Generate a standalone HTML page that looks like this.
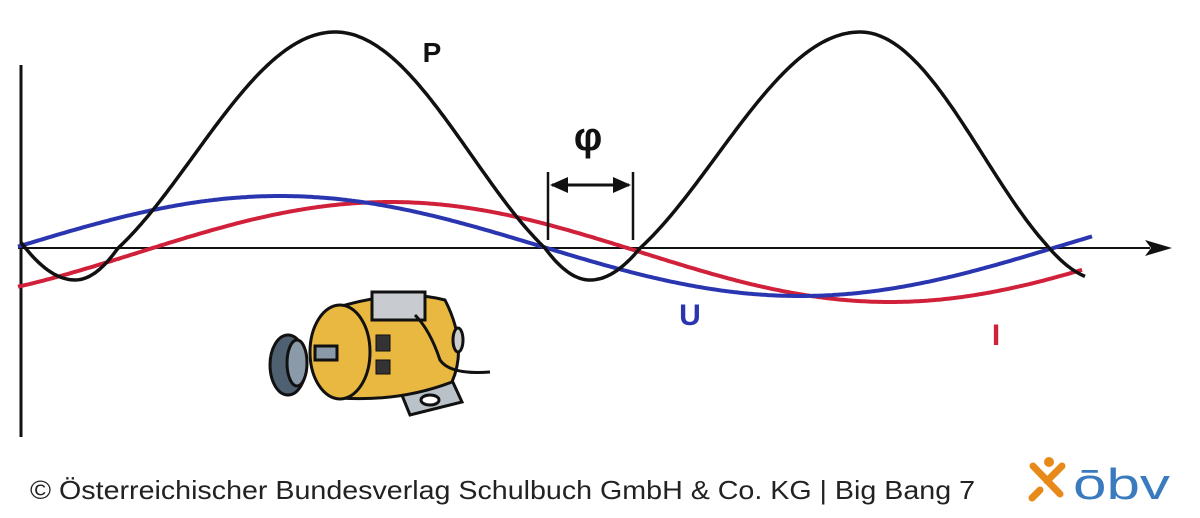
<!DOCTYPE html>
<html><head><meta charset="utf-8"><style>
html,body{margin:0;padding:0;background:#fff;}
svg{display:block}
</style></head><body>
<svg id="s" width="1200" height="518" viewBox="0 0 1200 518" xmlns="http://www.w3.org/2000/svg">
<rect width="1200" height="518" fill="#fff"/>
<line x1="21" y1="65" x2="21" y2="437" stroke="#111" stroke-width="3"/>
<line x1="18" y1="248" x2="1150" y2="248" stroke="#111" stroke-width="2"/>
<polygon points="1172,248 1145,240 1151,248 1145,256" fill="#111"/>
<path id="pI" fill="none" stroke="#d0203a" stroke-width="4"/>
<path id="pU" fill="none" stroke="#2a35b0" stroke-width="4"/>
<path id="pP" fill="none" stroke="#111" stroke-width="3.5"/>
<line x1="548" y1="172" x2="548" y2="240" stroke="#111" stroke-width="2.5"/>
<line x1="633" y1="172" x2="633" y2="240" stroke="#111" stroke-width="2.5"/>
<line x1="552" y1="185" x2="629" y2="185" stroke="#111" stroke-width="3"/>
<polygon points="550,185 568,177 568,193" fill="#111"/>
<polygon points="631,185 613,177 613,193" fill="#111"/>
<text x="588" y="150" font-family="Liberation Sans, sans-serif" font-size="40" font-weight="bold" text-anchor="middle" fill="#111">φ</text>
<text x="432" y="62" font-family="Liberation Sans, sans-serif" font-size="28" font-weight="bold" text-anchor="middle" fill="#111">P</text>
<text x="690" y="325" font-family="Liberation Sans, sans-serif" font-size="30" font-weight="bold" text-anchor="middle" fill="#2a35b0">U</text>
<text x="996" y="345" font-family="Liberation Sans, sans-serif" font-size="30" font-weight="bold" text-anchor="middle" fill="#d0203a">I</text>
<g stroke="#111" stroke-width="3">
<polygon points="395,378 445,365 462,402 410,415" fill="#b8c2c8"/>
<path d="M335,308 Q400,288 445,300 Q468,345 452,382 Q400,402 340,398 Z" fill="#e8b840"/>
<ellipse cx="340" cy="352" rx="30" ry="47" fill="#e8b840"/>
<rect x="372" y="292" width="53" height="28" fill="#c8ccd0"/>
<rect x="315" y="346" width="22" height="14" fill="#8a9aa8"/>
<ellipse cx="288" cy="365" rx="18" ry="30" fill="#4f6070"/>
<ellipse cx="297" cy="363" rx="10" ry="23" fill="#8a9aa8"/>
<rect x="376" y="335" width="14" height="16" fill="#333" stroke-width="1"/>
<rect x="376" y="360" width="14" height="14" fill="#333" stroke-width="1"/>
<ellipse cx="430" cy="400" rx="9" ry="5" fill="#fff"/>
<path d="M415,315 Q430,330 440,360 Q450,375 490,372" fill="none"/>
<ellipse cx="458" cy="340" rx="5" ry="12" fill="#ccc"/>
</g>
<text x="30" y="499" font-family="Liberation Sans, sans-serif" font-size="26" fill="#222" textLength="945" lengthAdjust="spacingAndGlyphs">© Österreichischer Bundesverlag Schulbuch GmbH &amp; Co. KG |  Big Bang 7</text>
<g stroke="#e88a1a" stroke-width="7" stroke-linecap="round">
<line x1="1033" y1="466" x2="1060" y2="494"/>
<line x1="1062" y1="466" x2="1047" y2="481"/>
<line x1="1040" y1="490" x2="1032" y2="498"/>
</g>
<circle cx="1049" cy="462" r="5" fill="#e88a1a"/>
<text x="1073" y="499" font-family="Liberation Sans, sans-serif" font-size="44" fill="#3a7bbf" textLength="97" lengthAdjust="spacingAndGlyphs">ōbv</text>
</svg>
<script>
var PI=Math.PI;
function mk(id,f,a,b){var d="";for(var x=a;x<=b;x+=2){d+=(x==a?"M":"L")+x+","+f(x).toFixed(1)+" ";}document.getElementById(id).setAttribute("d",d);}
var K=[[21,-PI-0.8],[75,-PI],[118,-2.408],[335,0],[545,2.408],[590,PI],[640,PI+0.733],[860,2*PI],[1045,2*PI+2.35],[1085,2*PI+2.9]];
function phi(x){for(var i=0;i<K.length-1;i++){if(x<=K[i+1][0]){var t=(x-K[i][0])/(K[i+1][0]-K[i][0]);return K[i][1]+t*(K[i+1][1]-K[i][1]);}}return K[K.length-1][1];}
mk("pP",function(x){return 156-124*Math.cos(phi(x));},21,1085);
mk("pU",function(x){return 246-50*Math.sin(2*PI*(x-20)/1040);},18,1092);
mk("pI",function(x){return 252-50*Math.sin(2*PI*(x-140)/1000);},18,1082);
</script>
</body></html>
